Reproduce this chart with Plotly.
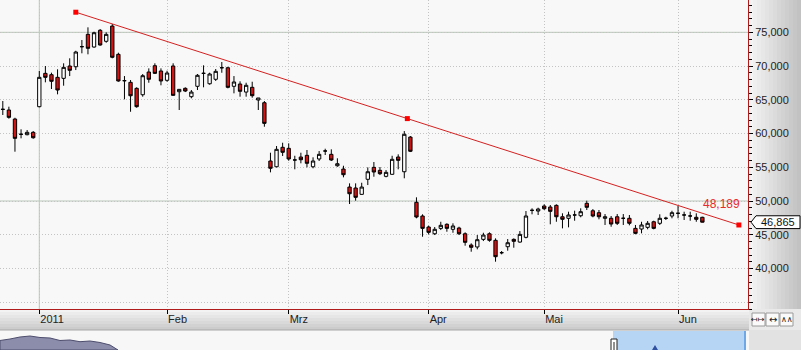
import plotly.graph_objects as go
import pandas as pd

# ---------------- data ----------------
holidays = ["2010-12-24", "2010-12-31", "2011-04-22", "2011-04-25"]
dates = [d for d in pd.bdate_range("2010-12-22", "2011-06-07").strftime("%Y-%m-%d") if d not in holidays]

opens = [63.60, 63.49, 62.15, 59.90, 59.83, 60.18, 63.98, 68.92, 68.72, 68.33,
         68.18, 70.01, 69.90, 72.88, 74.70, 72.82, 75.30, 73.67, 75.93, 71.74,
         67.84, 67.59, 66.70, 65.75, 69.12, 70.05, 69.27, 67.89, 70.01, 66.20,
         66.70, 65.46, 67.00, 68.93, 67.38, 68.04, 69.76, 69.75, 67.00, 67.34,
         66.15, 66.85, 64.97, 64.57, 55.93, 55.08, 57.96, 57.81, 56.09, 56.52,
         56.77, 55.08, 56.23, 57.42, 56.92, 55.23, 54.74, 52.07, 51.93, 50.99,
         53.22, 54.99, 54.55, 53.66, 53.96, 56.52, 54.34, 59.48, 49.81, 47.78,
         46.15, 45.15, 45.95, 46.55, 45.81, 46.00, 45.15, 43.48, 43.19, 44.32,
         45.15, 44.18, 42.35, 43.23, 44.32, 43.92, 44.62, 48.63, 48.52, 49.26,
         49.11, 49.36, 47.67, 47.44, 47.94, 47.82, 49.66, 48.56, 48.27, 47.44,
         47.44, 47.67, 47.45, 47.44, 45.95, 45.85, 46.10, 46.93, 46.70, 47.45,
         47.78, 48.19, 47.94, 47.79, 47.59, 47.59]
highs = [64.82, 63.98, 62.34, 60.63, 60.52, 60.37, 69.27, 70.01, 69.02, 69.52,
         70.41, 71.15, 72.27, 73.86, 75.74, 75.09, 75.49, 75.00, 76.23, 71.98,
         68.52, 67.93, 66.85, 68.82, 69.66, 70.41, 69.66, 69.31, 70.41, 66.60,
         66.85, 66.45, 68.82, 70.11, 69.02, 69.56, 70.60, 69.90, 68.52, 67.74,
         67.53, 67.68, 65.27, 64.82, 57.16, 58.15, 58.64, 58.55, 56.71, 57.16,
         57.56, 56.48, 57.41, 57.75, 57.66, 56.33, 55.23, 52.62, 52.62, 52.71,
         54.99, 55.78, 55.04, 54.59, 56.71, 56.92, 60.37, 59.63, 50.55, 48.03,
         46.34, 46.15, 46.93, 46.70, 46.70, 46.19, 45.36, 43.73, 44.96, 45.30,
         45.36, 44.47, 42.59, 44.37, 44.47, 45.55, 48.52, 48.92, 49.01, 49.51,
         49.41, 49.51, 48.18, 48.42, 48.57, 48.92, 50.05, 48.81, 48.67, 48.07,
         47.78, 48.07, 48.07, 47.93, 46.45, 46.93, 47.04, 47.08, 48.03, 47.67,
         48.56, 49.26, 48.42, 48.42, 48.18, 47.67]
lows = [62.75, 62.20, 57.31, 59.29, 59.74, 59.23, 63.89, 67.59, 66.60, 65.81,
        67.09, 68.52, 69.41, 71.89, 71.74, 72.72, 73.02, 73.46, 71.15, 67.68,
        65.07, 63.23, 63.83, 65.46, 67.53, 68.82, 67.15, 67.68, 65.61, 63.49,
        66.15, 65.22, 66.45, 66.85, 67.24, 67.79, 69.01, 66.70, 65.96, 65.46,
        65.46, 65.31, 63.49, 61.01, 54.25, 54.99, 56.67, 55.97, 54.70, 55.59,
        54.99, 54.85, 55.93, 56.82, 55.93, 55.08, 53.51, 49.56, 50.05, 50.94,
        52.37, 53.60, 53.85, 53.51, 53.90, 54.70, 53.37, 57.26, 47.44, 44.71,
        45.06, 44.96, 45.70, 45.45, 45.30, 44.96, 43.38, 42.49, 42.84, 44.07,
        43.97, 41.01, 42.10, 42.64, 43.08, 43.82, 44.47, 48.03, 47.93, 48.67,
        46.55, 46.93, 45.95, 46.10, 47.08, 47.59, 48.67, 47.59, 47.29, 46.45,
        46.19, 46.45, 46.45, 46.40, 45.07, 45.21, 45.81, 45.81, 46.45, 47.19,
        47.44, 47.44, 47.19, 47.08, 46.93, 46.83]
closes = [63.58, 62.40, 59.29, 59.89, 60.18, 59.38, 68.33, 68.33, 67.74, 66.45,
          69.81, 69.37, 72.08, 72.87, 72.63, 74.94, 73.12, 74.70, 71.30, 67.79,
          67.83, 65.60, 63.98, 68.57, 68.04, 68.92, 67.79, 68.97, 65.66, 66.55,
          66.30, 66.15, 68.63, 68.92, 68.82, 69.22, 69.75, 66.85, 67.64, 66.26,
          67.15, 65.61, 65.27, 61.51, 54.85, 57.66, 57.22, 56.23, 56.08, 56.12,
          55.59, 55.93, 56.92, 57.41, 56.08, 55.53, 53.90, 51.08, 50.55, 52.07,
          54.34, 54.30, 54.05, 54.25, 56.18, 56.03, 59.89, 57.37, 47.63, 45.95,
          45.36, 45.81, 46.40, 45.95, 46.30, 45.15, 43.88, 43.14, 44.27, 44.96,
          44.18, 41.75, 42.34, 43.82, 44.03, 45.06, 47.78, 48.62, 48.81, 48.86,
          48.47, 47.67, 47.29, 47.93, 47.93, 48.42, 49.07, 47.78, 47.67, 47.67,
          46.59, 46.70, 47.44, 46.70, 45.21, 46.45, 46.70, 45.95, 47.44, 47.44,
          48.27, 48.18, 47.93, 47.78, 47.29, 46.865]

month_dates = ["2011-01-03", "2011-02-01", "2011-03-01", "2011-04-01", "2011-05-02", "2011-06-01"]
month_labels = ["2011", "Feb", "Mrz", "Apr", "Mai", "Jun"]

y_ticks = [35, 40, 45, 50, 55, 60, 65, 70, 75]
y_ticktext = ["", "40,000", "45,000", "50,000", "55,000", "60,000", "65,000", "70,000", "75,000"]
y_solid_grid = [50, 75]

trend_x = [12, 121]          # trading-day positions of the drawn trendline ends
trend_y = [77.98, 46.45]
trend_value = 48.189
last_price = 46.865

Y_RANGE = [34.0, 79.79]
X_RANGE = [-0.46, 122.5]

# ---------------- geometry helpers ----------------
W, H = 801, 350
PW, PH = 748, 309


def px(x):
    return x / PW


def py(y):
    return (PH - y) / PH


def yv(v):
    return (v - Y_RANGE[0]) / (Y_RANGE[1] - Y_RANGE[0])


xpos = list(range(len(dates)))
month_pos = [dates.index(d) for d in month_dates]

fig = go.Figure()

fig.add_trace(go.Candlestick(
    x=xpos, open=opens, high=highs, low=lows, close=closes,
    increasing=dict(line=dict(color="#000000", width=1), fillcolor="#ffffff"),
    decreasing=dict(line=dict(color="#000000", width=1), fillcolor="#d01414"),
    whiskerwidth=0, hoverinfo="skip", showlegend=False))

# trendline
fig.add_trace(go.Scatter(x=trend_x, y=trend_y, mode="lines",
                         line=dict(color="#d42020", width=1), hoverinfo="skip", showlegend=False))
mid_x = (trend_x[0] + trend_x[1]) / 2
mid_y = (trend_y[0] + trend_y[1]) / 2
fig.add_trace(go.Scatter(x=[trend_x[0], mid_x, trend_x[1]], y=[trend_y[0], mid_y, trend_y[1]],
                         mode="markers", marker=dict(symbol="square", size=5, color="#ff0000",
                                                     line=dict(width=0)),
                         hoverinfo="skip", showlegend=False, cliponaxis=False))

shapes = []

# solid grid lines
for v in y_solid_grid:
    shapes.append(dict(type="line", xref="paper", yref="y", x0=0, x1=1, y0=v, y1=v,
                       line=dict(color="#b9c7b9", width=1), layer="between"))
shapes.append(dict(type="line", xref="x", yref="paper", x0=month_pos[0], x1=month_pos[0], y0=0, y1=1,
                   line=dict(color="#b9c7b9", width=1), layer="between"))

# right panel gradient
n = 13
c0, c1 = 0xf4, 0xc2
for k in range(n):
    xa = 749 + (801 - 749) * k / n
    xb = 749 + (801 - 749) * (k + 1) / n + 0.5
    c = int(c0 + (c1 - c0) * k / (n - 1))
    shapes.append(dict(type="rect", xref="paper", yref="paper", x0=px(xa), x1=px(xb), y0=py(309), y1=py(0),
                       fillcolor=f"rgb({c},{c},{c})", line=dict(width=0), layer="below"))

# bottom axis band gradient
n = 7
c0, c1 = 0xf3, 0xcc
for k in range(n):
    ya = 309 + 21 * k / n
    yb = 309 + 21 * (k + 1) / n + 0.5
    c = int(c0 + (c1 - c0) * k / (n - 1))
    shapes.append(dict(type="rect", xref="paper", yref="paper", x0=0, x1=px(749), y0=py(yb), y1=py(ya),
                       fillcolor=f"rgb({c},{c},{c})", line=dict(width=0), layer="below"))
# right bottom corner
shapes.append(dict(type="rect", xref="paper", yref="paper", x0=px(749), x1=px(801), y0=py(330), y1=py(309),
                   fillcolor="#e9e9e9", line=dict(width=0), layer="below"))
# navigator background
shapes.append(dict(type="rect", xref="paper", yref="paper", x0=0, x1=px(749), y0=py(350), y1=py(330),
                   fillcolor="#f7f7f7", line=dict(width=0), layer="below"))
shapes.append(dict(type="line", xref="paper", yref="paper", x0=0, x1=px(749), y0=py(330), y1=py(330),
                   line=dict(color="#a8a8a8", width=1), layer="below"))
shapes.append(dict(type="rect", xref="paper", yref="paper", x0=px(749), x1=px(801), y0=py(350), y1=py(330),
                   fillcolor="#e2e2e2", line=dict(width=0), layer="below"))

# navigator mini area (decoration)
nav_pts = [(0, 350), (0, 340.5), (10, 339), (20, 337), (30, 336), (40, 337.5), (50, 338),
           (60, 340.5), (70, 340), (80, 341.7), (90, 341), (100, 342.5), (110, 345), (118, 350)]
path = "M " + " L ".join(f"{px(a):.5f},{py(b):.5f}" for a, b in nav_pts) + " Z"
shapes.append(dict(type="path", xref="paper", yref="paper", path=path,
                   fillcolor="#8c8cab", line=dict(color="#4d4d6d", width=1), layer="below"))
# navigator selection
shapes.append(dict(type="rect", xref="paper", yref="paper", x0=px(613), x1=px(745), y0=py(350), y1=py(331),
                   fillcolor="#b6d5f5", line=dict(width=0), layer="below"))
shapes.append(dict(type="line", xref="paper", yref="paper", x0=px(745), x1=px(745), y0=py(350), y1=py(331),
                   line=dict(color="#6ea8e6", width=2), layer="below"))
shapes.append(dict(type="rect", xref="paper", yref="paper", x0=px(611), x1=px(617), y0=py(351), y1=py(339),
                   fillcolor="#ffffff", line=dict(color="#222222", width=1), layer="below"))
shapes.append(dict(type="line", xref="paper", yref="paper", x0=px(614), x1=px(614), y0=py(350), y1=py(342),
                   line=dict(color="#222222", width=1), layer="below"))
shapes.append(dict(type="path", xref="paper", yref="paper",
                   path=f"M {px(652)},{py(350)} L {px(655)},{py(345)} L {px(658)},{py(350)} Z",
                   fillcolor="#3050a0", line=dict(width=0), layer="below"))

# buttons
for k in range(3):
    xa = 752 + 14 * k
    shapes.append(dict(type="rect", xref="paper", yref="paper", x0=px(xa), x1=px(xa + 13), y0=py(326), y1=py(313),
                       fillcolor="#fafafa", line=dict(color="#9a9a9a", width=1), layer="above"))

# last price box
yc = last_price
hh = 0.95
box = (f"M {px(751)},{yv(yc)} L {px(756)},{yv(yc + hh)} L {px(800)},{yv(yc + hh)} "
       f"L {px(800)},{yv(yc - hh)} L {px(756)},{yv(yc - hh)} Z")
shapes.append(dict(type="path", xref="paper", yref="paper", path=box,
                   fillcolor="#ffffff", line=dict(color="#000000", width=1), layer="above"))

annotations = [
    dict(x=px(778), xref="paper", y=last_price, yref="y", text=f"{last_price:.3f}".replace(".", ","),
         showarrow=False, font=dict(size=11, color="#111111"), xanchor="center", yanchor="middle"),
    dict(x=xpos[-1], xref="x", y=trend_value, yref="y", text=f"{trend_value:.3f}".replace(".", ","),
         showarrow=False, font=dict(size=12, color="#e82a2a"), xanchor="left", yanchor="bottom",
         xshift=-1, yshift=0),
]
for k, sym in enumerate(["\u21a4\u21a6", "\u2194", "\u2227\u2227"]):
    annotations.append(dict(x=px(752 + 14 * k + 6.5), xref="paper", y=py(319.5), yref="paper", text=sym,
                            showarrow=False, font=dict(family="DejaVu Sans", size=8 if k != 1 else 10,
                                                       color="#222222"),
                            xanchor="center", yanchor="middle"))

fig.update_layout(
    width=W, height=H,
    margin=dict(l=0, r=W - PW, t=0, b=H - PH, pad=0),
    paper_bgcolor="#efefef", plot_bgcolor="#f8f8f8",
    separators=",.",
    boxgap=0.22,
    showlegend=False,
    font=dict(family="Liberation Sans, Arial, sans-serif", size=11, color="#222222"),
    xaxis=dict(range=X_RANGE, tickmode="array", tickvals=month_pos, ticktext=month_labels,
               showgrid=True, gridcolor="#c4c4c4", griddash="1px,2px", gridwidth=1,
               ticks="outside", ticklen=4, tickcolor="#000000", ticklabelposition="outside right",
               showline=True, linecolor="#b01c1c", linewidth=1, zeroline=False,
               rangeslider=dict(visible=False), fixedrange=True),
    yaxis=dict(side="right", range=Y_RANGE, tickmode="array", tickvals=y_ticks, ticktext=y_ticktext,
               showgrid=True, gridcolor="#c4c4c4", griddash="1px,2px", gridwidth=1,
               ticks="outside", ticklen=4, tickcolor="#000000",
               minor=dict(tickmode="linear", tick0=0, dtick=1, ticks="outside", ticklen=3,
                          tickcolor="#000000", showgrid=False),
               showline=True, linecolor="#b01c1c", linewidth=1, zeroline=False, fixedrange=True),
    shapes=shapes,
    annotations=annotations,
)

fig.write_html("out.html")
